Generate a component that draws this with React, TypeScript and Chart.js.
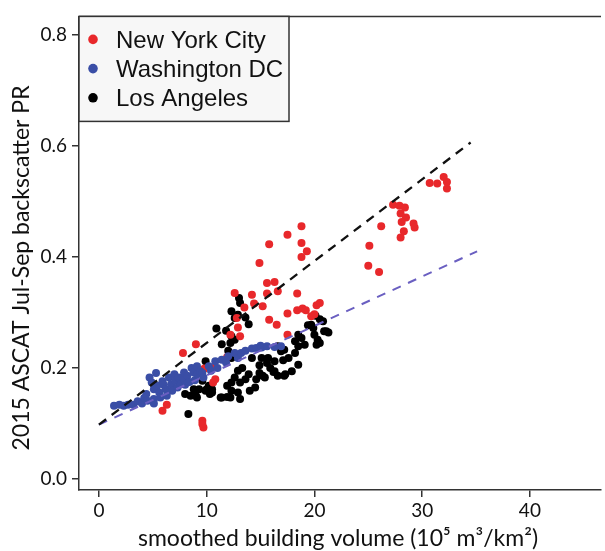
import React, { useEffect, useRef } from "react";
import { Chart, registerables } from "chart.js";
Chart.register(...registerables);

const legendLabels = ["New York City", "Washington DC", "Los Angeles"];
const seriesColors = ["#e8282b", "#3a4ea6", "#000000"];
const xTicks = [0, 10, 20, 30, 40];
const yTicks = [0, 0.2, 0.4, 0.6, 0.8];
const xTitle = "smoothed building volume (10\u2075 m\u00b3/km\u00b2)";
const yTitle = "2015 ASCAT Jul-Sep backscatter PR";

const nycPoints: number[][] = [
  [30.7, 0.533], [31.4, 0.532], [32.0, 0.544], [32.3, 0.535], [32.3, 0.523],
  [27.3, 0.494], [27.9, 0.492], [28.4, 0.489], [28.0, 0.478], [28.5, 0.471],
  [28.1, 0.463], [29.2, 0.46], [29.3, 0.453], [28.3, 0.446], [28.0, 0.435],
  [26.2, 0.455], [25.1, 0.42], [25.0, 0.384], [26.0, 0.373],
  [18.8, 0.455], [17.5, 0.44], [15.8, 0.423], [18.8, 0.425], [19.3, 0.41],
  [18.8, 0.4], [14.9, 0.389], [15.6, 0.353], [16.3, 0.355], [12.6, 0.335],
  [14.2, 0.332], [15.6, 0.334], [16.6, 0.338], [18.4, 0.334], [14.4, 0.316],
  [15.2, 0.311], [13.5, 0.309], [17.5, 0.298], [18.4, 0.304], [18.9, 0.307],
  [19.2, 0.304], [20.2, 0.313], [20.5, 0.317], [20.0, 0.297], [19.7, 0.293],
  [15.8, 0.287], [16.5, 0.278], [12.9, 0.273], [12.2, 0.26], [13.1, 0.257],
  [17.5, 0.26], [12.8, 0.29],
  [9.0, 0.243], [7.8, 0.227], [10.5, 0.2], [10.8, 0.18], [10.6, 0.174],
  [9.8, 0.199], [6.3, 0.134], [5.9, 0.123], [9.6, 0.105], [9.7, 0.093],
  [9.6, 0.099], [11.9, 0.22],
];

const dcPoints: number[][] = [
  [1.4, 0.132], [1.9, 0.134], [2.3, 0.132], [2.7, 0.134], [3.2, 0.134],
  [3.6, 0.14], [4.0, 0.136], [4.2, 0.146], [4.5, 0.141], [4.4, 0.153],
  [4.7, 0.183], [4.9, 0.174], [5.1, 0.162], [5.4, 0.168], [5.6, 0.156],
  [5.1, 0.144], [5.7, 0.147], [5.1, 0.136], [5.3, 0.191], [5.9, 0.176],
  [6.0, 0.17], [6.2, 0.162], [6.3, 0.15], [6.5, 0.183], [6.7, 0.171],
  [6.8, 0.159], [7.0, 0.189], [7.1, 0.177], [7.3, 0.165], [7.4, 0.183],
  [7.6, 0.171], [7.9, 0.18], [7.9, 0.192], [8.0, 0.17], [8.2, 0.186],
  [8.4, 0.175], [8.6, 0.2], [8.8, 0.192], [8.9, 0.178], [9.1, 0.189],
  [9.1, 0.203], [9.4, 0.194], [9.6, 0.191], [9.7, 0.183], [10.2, 0.203],
  [10.4, 0.195], [10.8, 0.212], [11.0, 0.2], [11.4, 0.215], [11.8, 0.21],
  [12.0, 0.221], [12.6, 0.227], [12.9, 0.218], [13.2, 0.227], [13.6, 0.231],
  [14.2, 0.235], [14.6, 0.236], [15.0, 0.24], [15.1, 0.237], [15.6, 0.239],
  [16.3, 0.238], [16.9, 0.239],
];

const laPoints: number[][] = [
  [13.0, 0.326], [13.1, 0.317], [12.3, 0.302], [12.9, 0.296], [13.6, 0.291],
  [12.6, 0.29], [13.9, 0.279], [11.8, 0.267], [10.9, 0.271], [12.3, 0.257],
  [11.4, 0.243], [12.0, 0.231], [12.2, 0.245], [12.6, 0.251],
  [20.5, 0.288], [19.4, 0.277], [19.9, 0.272], [20.9, 0.266], [20.0, 0.26],
  [21.3, 0.264], [18.8, 0.254], [20.3, 0.251], [20.1, 0.294], [19.1, 0.242],
  [18.5, 0.239], [20.2, 0.242], [18.2, 0.227], [17.6, 0.218], [18.5, 0.206],
  [17.9, 0.194], [17.3, 0.189], [16.9, 0.23], [17.1, 0.214], [16.3, 0.212],
  [15.7, 0.218], [15.6, 0.209], [16.2, 0.193], [16.6, 0.186], [15.4, 0.183],
  [14.9, 0.191], [13.9, 0.189], [13.6, 0.18], [13.1, 0.174], [12.6, 0.183],
  [12.3, 0.174], [11.9, 0.168], [12.3, 0.159], [12.9, 0.156], [13.1, 0.144],
  [11.9, 0.148], [11.3, 0.147], [10.5, 0.156], [10.0, 0.162], [14.6, 0.18],
  [14.5, 0.165], [14.0, 0.159], [14.2, 0.218], [15.1, 0.218], [16.6, 0.239],
  [17.2, 0.233], [19.7, 0.278], [21.1, 0.266], [20.5, 0.245], [18.2, 0.248],
  [18.5, 0.26], [16.3, 0.194], [17.2, 0.186], [15.2, 0.186], [12.2, 0.147],
  [11.4, 0.147], [10.5, 0.162], [9.6, 0.177], [9.0, 0.15], [8.0, 0.153],
  [8.3, 0.117], [9.9, 0.212], [12.3, 0.218], [8.8, 0.162], [9.3, 0.162],
  [9.9, 0.159], [10.2, 0.168], [10.3, 0.153], [8.5, 0.15], [9.1, 0.147],
  [20.8, 0.284], [14.9, 0.205], [15.9, 0.2], [13.3, 0.2], [12.9, 0.195],
];

const blackFit: number[][] = [[0, 0.098], [34.5, 0.606]];
const blueFit: number[][] = [[0, 0.098], [35.1, 0.41]];

const toXY = (arr: number[][]) => arr.map(([x, y]) => ({ x, y }));

export default function App() {
  const ref = useRef<HTMLCanvasElement>(null);
  useEffect(() => {
    const canvas = ref.current!;
    const overlay = {
      id: "overlay",
      afterDraw(chart: any) {
        const c = chart.ctx as CanvasRenderingContext2D;
        const a = chart.chartArea;
        c.save();
        c.strokeStyle = "#333";
        c.lineWidth = 1.5;
        c.beginPath();
        c.moveTo(a.left, a.top);
        c.lineTo(a.right, a.top);
        c.stroke();
        // legend
        const bx = a.left, by = a.top, bw = 210, bh = 105;
        c.fillStyle = "#f7f7f7";
        c.fillRect(bx, by, bw, bh);
        c.strokeRect(bx, by, bw, bh);
        c.font = "24px 'Liberation Sans', Arial, sans-serif";
        c.textBaseline = "alphabetic";
        c.textAlign = "left";
        legendLabels.forEach((lab, i) => {
          const base = by + 31.5 + i * 29.2;
          c.fillStyle = seriesColors[i];
          c.beginPath();
          c.arc(bx + 14, base - 8.5, 4.8, 0, Math.PI * 2);
          c.fill();
          c.fillStyle = "#111";
          c.fillText(lab, bx + 37, base);
        });
        // axis titles
        c.fillStyle = "#111";
        c.font = "23px Lato, sans-serif";
        c.textAlign = "center";
        c.fillText(xTitle, 338, 546);
        c.translate(29, 268);
        c.rotate(-Math.PI / 2);
        c.fillText(yTitle, 0, 0);
        c.restore();
      },
    };
    const scatterDs = (label: string, pts: number[][], color: string, order: number) => ({
      label,
      data: toXY(pts),
      backgroundColor: color,
      borderColor: color,
      borderWidth: 0,
      pointRadius: 4,
      pointHoverRadius: 4,
      order,
    });
    const lineDs = (pts: number[][], color: string, width: number, dash: number[]) => ({
      label: "fit",
      data: toXY(pts),
      showLine: true,
      borderColor: color,
      borderWidth: width,
      borderDash: dash,
      pointRadius: 0,
      fill: false,
      order: 0,
    });
    const chart = new Chart(canvas, {
      type: "scatter",
      data: {
        datasets: [
          scatterDs(legendLabels[2], laPoints, seriesColors[2], 4),
          scatterDs(legendLabels[0], nycPoints, seriesColors[0], 3),
          scatterDs(legendLabels[1], dcPoints, seriesColors[1], 2),
          lineDs(blackFit, "#111", 2.3, [9, 7]),
          lineDs(blueFit, "#6a5fc1", 2, [9, 8]),
        ] as any,
      },
      options: {
        animation: false,
        responsive: false,
        devicePixelRatio: 1,
        layout: { padding: { top: 12, right: 0, left: 0, bottom: 0 } },
        plugins: { legend: { display: false }, tooltip: { enabled: false } },
        scales: {
          x: {
            type: "linear",
            min: -1.85,
            max: 46.6,
            afterFit: (s: any) => { s.height = 61; },
            afterBuildTicks: (s: any) => { s.ticks = xTicks.map((v) => ({ value: v })); },
            border: { display: true, color: "#333", width: 1.5 },
            grid: { display: true, drawOnChartArea: false, drawTicks: true, tickLength: 7, color: "#333", lineWidth: 1.5 },
            ticks: { color: "#111", font: { family: "Lato", size: 19 }, padding: 2, maxRotation: 0, callback: (v: any) => String(v) },
          },
          y: {
            type: "linear",
            min: -0.0196,
            max: 0.833,
            afterFit: (s: any) => { s.width = 79; },
            afterBuildTicks: (s: any) => { s.ticks = yTicks.map((v) => ({ value: v })); },
            border: { display: true, color: "#333", width: 1.5 },
            grid: { display: true, drawOnChartArea: false, drawTicks: true, tickLength: 7, color: "#333", lineWidth: 1.5 },
            ticks: { color: "#111", font: { family: "Lato", size: 19 }, padding: 5, callback: (v: any) => Number(v).toFixed(1) },
          },
        },
      },
      plugins: [overlay],
    });
    return () => chart.destroy();
  }, []);
  return (
    <div style={{ position: "fixed", left: 0, top: 0 }}>
      <canvas ref={ref} width={605} height={551} style={{ display: "block" }} />
    </div>
  );
}
